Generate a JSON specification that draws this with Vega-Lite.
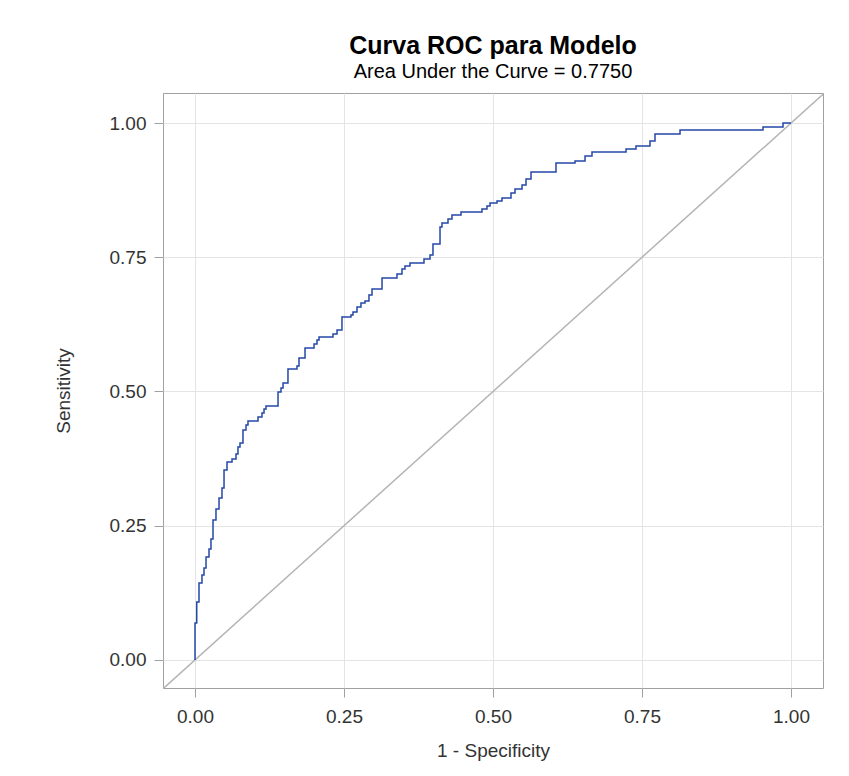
{
  "$schema": "https://vega.github.io/schema/vega-lite/v6.json",
  "width": 660,
  "height": 595,
  "autosize": "none",
  "padding": {"left": 163, "top": 93, "right": 26, "bottom": 88},
  "background": "white",
  "title": {
    "text": "Curva ROC para Modelo",
    "subtitle": "Area Under the Curve = 0.7750",
    "anchor": "middle",
    "font": "Liberation Sans",
    "fontSize": 25,
    "fontWeight": "bold",
    "color": "#000000",
    "subtitleFont": "Liberation Sans",
    "subtitleFontSize": 20,
    "subtitleColor": "#000000",
    "subtitlePadding": 3,
    "offset": 11
  },
  "config": {
    "view": {"stroke": "#A0A0A0", "strokeWidth": 1},
    "axis": {
      "domain": false,
      "grid": true,
      "gridColor": "#E4E4E4",
      "gridWidth": 1,
      "tickColor": "#A0A0A0",
      "tickSize": 9,
      "labelFont": "Liberation Sans",
      "labelFontSize": 19,
      "labelColor": "#333333",
      "titleFont": "Liberation Sans",
      "titleFontSize": 19,
      "titleFontWeight": "normal",
      "titleColor": "#333333"
    }
  },
  "datasets": {
    "roc": [
      {"fpr": 0.0, "tpr": 0.0},
      {"fpr": 0.0, "tpr": 0.0689},
      {"fpr": 0.0029, "tpr": 0.108},
      {"fpr": 0.0067, "tpr": 0.1434},
      {"fpr": 0.0117, "tpr": 0.1583},
      {"fpr": 0.0151, "tpr": 0.1713},
      {"fpr": 0.0185, "tpr": 0.1918},
      {"fpr": 0.0235, "tpr": 0.2067},
      {"fpr": 0.0268, "tpr": 0.2253},
      {"fpr": 0.0302, "tpr": 0.2607},
      {"fpr": 0.0352, "tpr": 0.2812},
      {"fpr": 0.0403, "tpr": 0.3017},
      {"fpr": 0.0453, "tpr": 0.3203},
      {"fpr": 0.0487, "tpr": 0.3538},
      {"fpr": 0.0537, "tpr": 0.3687},
      {"fpr": 0.0621, "tpr": 0.3743},
      {"fpr": 0.0688, "tpr": 0.3836},
      {"fpr": 0.0721, "tpr": 0.3966},
      {"fpr": 0.0755, "tpr": 0.4041},
      {"fpr": 0.0805, "tpr": 0.4283},
      {"fpr": 0.0856, "tpr": 0.4376},
      {"fpr": 0.0889, "tpr": 0.4451},
      {"fpr": 0.1057, "tpr": 0.4525},
      {"fpr": 0.1124, "tpr": 0.46},
      {"fpr": 0.1158, "tpr": 0.4674},
      {"fpr": 0.1191, "tpr": 0.473},
      {"fpr": 0.1393, "tpr": 0.4991},
      {"fpr": 0.1443, "tpr": 0.5065},
      {"fpr": 0.1477, "tpr": 0.5158},
      {"fpr": 0.156, "tpr": 0.5419},
      {"fpr": 0.1711, "tpr": 0.5475},
      {"fpr": 0.1745, "tpr": 0.5624},
      {"fpr": 0.1846, "tpr": 0.581},
      {"fpr": 0.1997, "tpr": 0.5885},
      {"fpr": 0.2047, "tpr": 0.5959},
      {"fpr": 0.2081, "tpr": 0.6015},
      {"fpr": 0.2315, "tpr": 0.6071},
      {"fpr": 0.2383, "tpr": 0.6145},
      {"fpr": 0.2466, "tpr": 0.6387},
      {"fpr": 0.2617, "tpr": 0.6425},
      {"fpr": 0.2651, "tpr": 0.648},
      {"fpr": 0.2718, "tpr": 0.6574},
      {"fpr": 0.2785, "tpr": 0.6648},
      {"fpr": 0.2852, "tpr": 0.6685},
      {"fpr": 0.2919, "tpr": 0.6797},
      {"fpr": 0.297, "tpr": 0.6909},
      {"fpr": 0.3138, "tpr": 0.7114},
      {"fpr": 0.3389, "tpr": 0.7188},
      {"fpr": 0.3473, "tpr": 0.7281},
      {"fpr": 0.3523, "tpr": 0.7337},
      {"fpr": 0.3607, "tpr": 0.7393},
      {"fpr": 0.3842, "tpr": 0.7467},
      {"fpr": 0.3943, "tpr": 0.7542},
      {"fpr": 0.3993, "tpr": 0.7747},
      {"fpr": 0.4111, "tpr": 0.8063},
      {"fpr": 0.4144, "tpr": 0.8138},
      {"fpr": 0.4245, "tpr": 0.8212},
      {"fpr": 0.4312, "tpr": 0.8287},
      {"fpr": 0.4463, "tpr": 0.8343},
      {"fpr": 0.4815, "tpr": 0.8399},
      {"fpr": 0.4899, "tpr": 0.8454},
      {"fpr": 0.495, "tpr": 0.851},
      {"fpr": 0.5067, "tpr": 0.8547},
      {"fpr": 0.5151, "tpr": 0.8603},
      {"fpr": 0.5302, "tpr": 0.8696},
      {"fpr": 0.5369, "tpr": 0.8771},
      {"fpr": 0.5487, "tpr": 0.8845},
      {"fpr": 0.5554, "tpr": 0.8957},
      {"fpr": 0.5638, "tpr": 0.9088},
      {"fpr": 0.6057, "tpr": 0.9255},
      {"fpr": 0.6376, "tpr": 0.9292},
      {"fpr": 0.6544, "tpr": 0.9385},
      {"fpr": 0.6661, "tpr": 0.946},
      {"fpr": 0.7232, "tpr": 0.9516},
      {"fpr": 0.7399, "tpr": 0.9572},
      {"fpr": 0.7634, "tpr": 0.9665},
      {"fpr": 0.7718, "tpr": 0.9795},
      {"fpr": 0.8138, "tpr": 0.987},
      {"fpr": 0.953, "tpr": 0.9926},
      {"fpr": 0.9866, "tpr": 1.0},
      {"fpr": 1.0, "tpr": 1.0}
    ],
    "diag": [
      {"fpr": -0.06, "tpr": -0.06},
      {"fpr": 1.06, "tpr": 1.06}
    ]
  },
  "layer": [
    {
      "data": {"name": "diag"},
      "mark": {"type": "line", "color": "#B4B4B4", "strokeWidth": 1.5, "clip": true},
      "encoding": {
        "x": {"field": "fpr", "type": "quantitative"},
        "y": {"field": "tpr", "type": "quantitative"}
      }
    },
    {
      "data": {"name": "roc"},
      "mark": {"type": "line", "color": "#2448A8", "strokeWidth": 1.5, "interpolate": "step-after", "clip": true},
      "encoding": {
        "x": {
          "field": "fpr",
          "type": "quantitative",
          "scale": {"domain": [-0.0537, 1.0537], "nice": false, "zero": false},
          "axis": {"values": [0, 0.25, 0.5, 0.75, 1], "format": ".2f", "title": "1 - Specificity", "labelPadding": 10, "titlePadding": 15}
        },
        "y": {
          "field": "tpr",
          "type": "quantitative",
          "scale": {"domain": [-0.0522, 1.0559], "nice": false, "zero": false},
          "axis": {"values": [0, 0.25, 0.5, 0.75, 1], "format": ".2f", "title": "Sensitivity", "labelPadding": 8, "titlePadding": 36}
        },
        "order": {"field": "fpr", "type": "quantitative"}
      }
    }
  ]
}
